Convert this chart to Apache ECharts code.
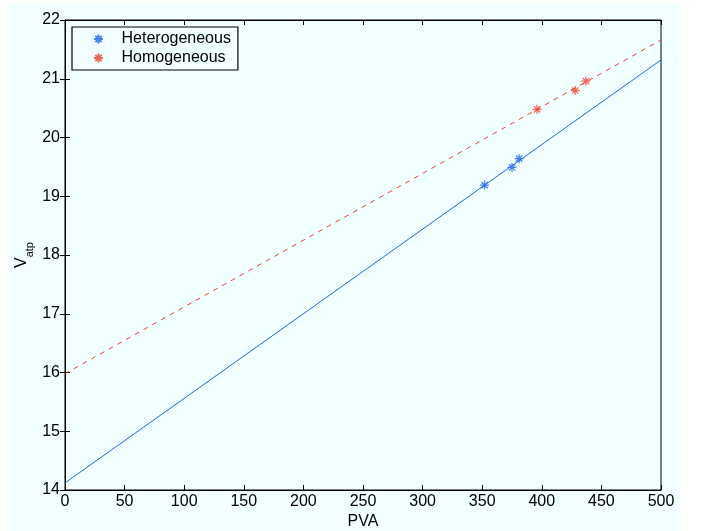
<!DOCTYPE html>
<html>
<head>
<meta charset="utf-8">
<script src="https://cdn.jsdelivr.net/npm/echarts@6/dist/echarts.min.js"></script>
<style>
html,body{margin:0;padding:0;background:#fff;}
#chart{width:701px;height:531px;}
</style>
</head>
<body>
<div id="chart"></div>
<script>
var hetPoints = [[352, 19.19], [375, 19.49], [381, 19.64]];
var homPoints = [[396, 20.48], [428, 20.80], [437, 20.96]];
var hetFit = [[0, 14.12], [500, 21.32]];
var homFit = [[0, 15.98], [500, 21.66]];
var xTicks = [0, 500, 50];
var yTicks = [14, 22, 1];

var blue = '#1f62f0';
var red = '#f0402e';
var star = 'path://M0,-10L0,10M-10,0L10,0M-7,-7L7,7M-7,7L7,-7';
var font = 'Liberation Sans, Arial, sans-serif';

var myChart = echarts.init(document.getElementById('chart'));
myChart.setOption({
    backgroundColor: 'transparent',
    animation: false,
    graphic: [{
        type: 'rect', z: -10,
        shape: {x: 9, y: 3, width: 671, height: 528},
        style: {fill: '#f0ffff'}
    }],
    grid: {left: 65, top: 20, right: 40, bottom: 41, show: true, borderColor: '#000', borderWidth: 1,
        backgroundColor: 'transparent', outerBoundsMode: 'none'},
    legend: {
        orient: 'vertical', left: 72, top: 27,
        data: ['Heterogeneous', 'Homogeneous'],
        backgroundColor: '#f0ffff', borderColor: '#000', borderWidth: 1.2,
        padding: [4, 7, 4, 21], itemGap: 3, itemWidth: 36, itemHeight: 9,
        textStyle: {fontFamily: font, fontSize: 16, color: '#000'}
    },
    xAxis: [{
        type: 'value', min: xTicks[0], max: xTicks[1], interval: xTicks[2],
        name: 'PVA', nameLocation: 'middle', nameGap: 24, nameMoveOverlap: false,
        nameTextStyle: {fontFamily: font, fontSize: 16, color: '#000'},
        axisLine: {show: true, lineStyle: {color: '#000'}},
        axisTick: {inside: true, length: 5, lineStyle: {color: '#000'}},
        axisLabel: {fontFamily: font, fontSize: 16, color: '#000', margin: 4},
        splitLine: {show: false}
    }, {
        type: 'value', position: 'top', min: xTicks[0], max: xTicks[1], interval: xTicks[2],
        axisLine: {show: true, lineStyle: {color: '#000'}},
        axisTick: {inside: true, length: 5, lineStyle: {color: '#000'}},
        axisLabel: {show: false}, splitLine: {show: false}
    }],
    yAxis: [{
        type: 'value', min: yTicks[0], max: yTicks[1], interval: yTicks[2],
        name: '{v|V}{s|atp}', nameLocation: 'middle', nameGap: 35, nameRotate: 90, nameMoveOverlap: false,
        nameTextStyle: {
            rich: {
                v: {fontFamily: font, fontSize: 16, color: '#000'},
                s: {fontFamily: font, fontSize: 11, color: '#000', verticalAlign: 'bottom', padding: [0, 0, -5, 0]}
            }
        },
        axisLine: {show: true, lineStyle: {color: '#000'}},
        axisTick: {inside: true, length: 5, lineStyle: {color: '#000'}},
        axisLabel: {fontFamily: font, fontSize: 16, color: '#000', margin: 5},
        splitLine: {show: false}
    }, {
        type: 'value', position: 'right', min: yTicks[0], max: yTicks[1], interval: yTicks[2],
        axisLine: {show: true, lineStyle: {color: '#000'}},
        axisTick: {inside: true, length: 5, lineStyle: {color: '#000'}},
        axisLabel: {show: false}, splitLine: {show: false}
    }],
    series: [{
        name: 'hetFit', type: 'line', data: hetFit, showSymbol: false,
        lineStyle: {color: blue, width: 1}, silent: true
    }, {
        name: 'homFit', type: 'line', data: homFit, showSymbol: false,
        lineStyle: {color: red, width: 1, type: [5, 5]}, silent: true
    }, {
        name: 'Heterogeneous', type: 'scatter', data: hetPoints,
        symbol: star, symbolSize: 9,
        itemStyle: {color: 'transparent', borderColor: blue, borderWidth: 1.3}
    }, {
        name: 'Homogeneous', type: 'scatter', data: homPoints,
        symbol: star, symbolSize: 9,
        itemStyle: {color: 'transparent', borderColor: red, borderWidth: 1.3}
    }]
});
</script>
</body>
</html>
